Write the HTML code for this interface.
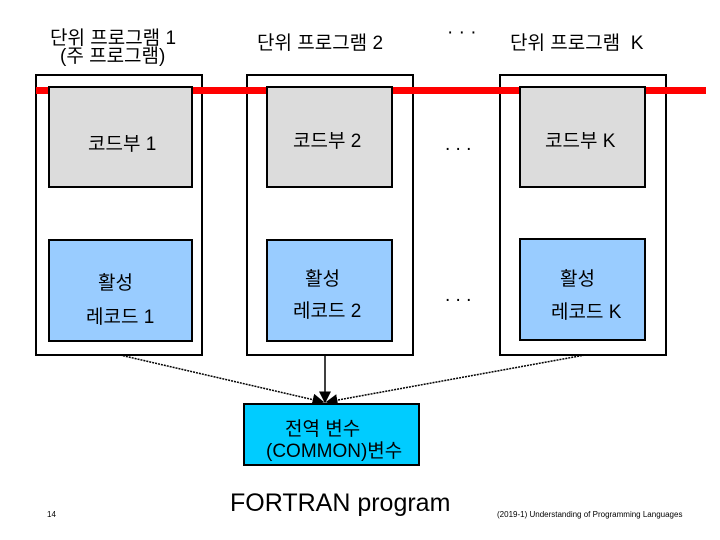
<!DOCTYPE html>
<html><head><meta charset="utf-8"><style>
body{margin:0;width:720px;height:540px;background:#fff;position:relative;overflow:hidden;font-family:"Liberation Sans","Noto Sans CJK KR",sans-serif;}
.a{position:absolute;}
.outer{position:absolute;border:2px solid #000;background:#fff;box-sizing:border-box;}
.gray{position:absolute;border:2px solid #000;background:#dcdcdc;box-sizing:border-box;}
.blue{position:absolute;border:2px solid #000;background:#99ccff;box-sizing:border-box;}
.t{position:absolute;font-size:19px;color:#000;white-space:nowrap;}
</style></head><body>
<div class="outer" style="left:35px;top:74px;width:168px;height:282px"></div>
<div class="outer" style="left:246px;top:74px;width:168px;height:282px"></div>
<div class="outer" style="left:499px;top:74px;width:168px;height:282px"></div>
<div class="a" style="left:36px;top:87px;width:670px;height:7px;background:#ff0000"></div>
<div class="gray" style="left:48px;top:86px;width:145px;height:102px"></div>
<div class="gray" style="left:266px;top:86px;width:127px;height:102px"></div>
<div class="gray" style="left:519px;top:86px;width:127px;height:102px"></div>
<div class="blue" style="left:48px;top:239px;width:145px;height:103px"></div>
<div class="blue" style="left:266px;top:239px;width:127px;height:103px"></div>
<div class="blue" style="left:519px;top:238px;width:127px;height:103px"></div>
<div class="t" style="left:50px;top:29px;line-height:20px">단위 프로그램 1</div>
<div class="t" style="left:60px;top:47px;line-height:20px">(주 프로그램)</div>
<div class="t" style="left:257px;top:28px">단위 프로그램 2</div>
<div class="t" style="left:447px;top:22px">· · ·</div>
<div class="t" style="left:510px;top:28px">단위 프로그램 &nbsp;K</div>
<div class="t" style="left:88px;top:129px">코드부 1</div>
<div class="t" style="left:293px;top:126px">코드부 2</div>
<div class="t" style="left:445px;top:134px">. . .</div>
<div class="t" style="left:545px;top:126px">코드부 K</div>
<div class="t" style="left:98px;top:268px">활성</div>
<div class="t" style="left:86px;top:302px">레코드 1</div>
<div class="t" style="left:305px;top:264px">활성</div>
<div class="t" style="left:293px;top:296px">레코드 2</div>
<div class="t" style="left:445px;top:285px">. . .</div>
<div class="t" style="left:560px;top:264px">활성</div>
<div class="t" style="left:551px;top:297px">레코드 K</div>
<svg class="a" style="left:0;top:0" width="720" height="540">
<defs><marker id="m" markerWidth="8" markerHeight="8" refX="7" refY="4" orient="auto"><path d="M0,0L8,4L0,8z" fill="#000"/></marker></defs>
<line x1="120" y1="355" x2="323" y2="402" stroke="#000" stroke-width="1.5" stroke-dasharray="2,1" marker-end="url(#m)"/>
<line x1="325" y1="356" x2="325" y2="402" stroke="#000" stroke-width="1.5" marker-end="url(#m)"/>
<line x1="585" y1="355" x2="327" y2="402" stroke="#000" stroke-width="1.5" stroke-dasharray="2,1" marker-end="url(#m)"/>
</svg>
<div class="a" style="left:243px;top:403px;width:177px;height:63px;background:#00ccff;border:2px solid #000;box-sizing:border-box"></div>
<div class="t" style="left:285px;top:419px;line-height:22px">전역 변수</div>
<div class="t" style="left:266px;top:441px;line-height:22px">(COMMON)변수</div>
<div class="t" style="left:230px;top:489px;font-size:25px">FORTRAN program</div>
<div class="t" style="left:47px;top:510px;font-size:8px">14</div>
<div class="t" style="left:497px;top:510px;font-size:8px">(2019-1) Understanding of Programming Languages</div>
</body></html>
